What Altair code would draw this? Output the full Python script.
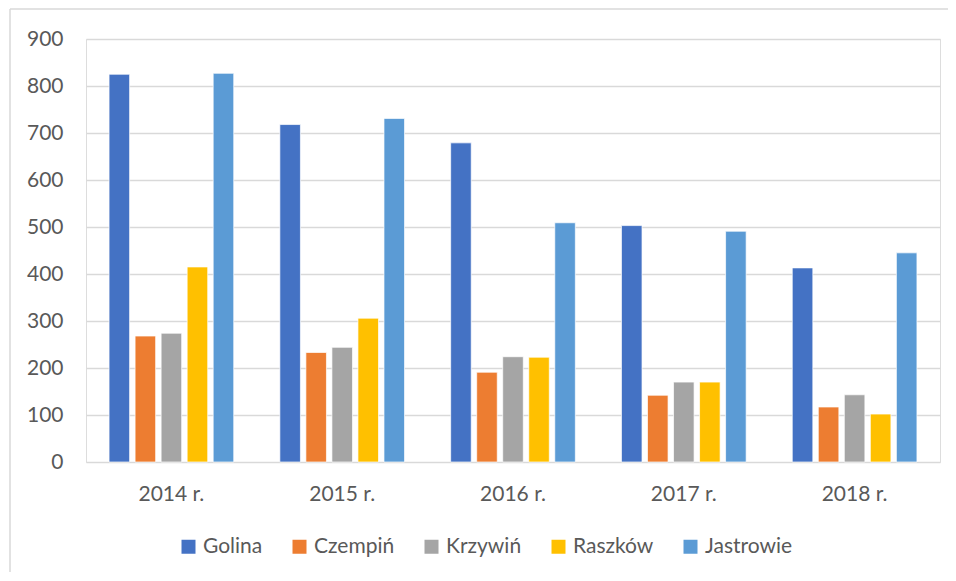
import altair as alt
import pandas as pd

years = ["2014 r.", "2015 r.", "2016 r.", "2017 r.", "2018 r."]
cities = ["Golina", "Czempiń", "Krzywiń", "Raszków", "Jastrowie"]
colors = ["#4472C4", "#ED7D31", "#A5A5A5", "#FFC000", "#5B9BD5"]

golina = [825, 718, 679, 503, 413]
czempin = [268, 233, 191, 142, 117]
krzywin = [274, 244, 224, 170, 143]
raszkow = [415, 306, 223, 170, 102]
jastrowie = [827, 731, 509, 491, 445]

series = [golina, czempin, krzywin, raszkow, jastrowie]
rows = []
for city, vals in zip(cities, series):
    for y, v in zip(years, vals):
        rows.append({"year": y, "city": city, "value": v})
df = pd.DataFrame(rows)

FONT = "Lato"
TXT = "#595959"
GRID = "#D9D9D9"

bars = alt.Chart(df).mark_bar(stroke="white", strokeWidth=0.7).encode(
    x=alt.X("year:N", sort=years, title=None,
            scale=alt.Scale(paddingInner=0.27, paddingOuter=0.135),
            axis=alt.Axis(labelAngle=0, labelFont=FONT, labelFontSize=21,
                          labelColor=TXT, ticks=False, domain=False,
                          labelPadding=21, grid=False)),
    xOffset=alt.XOffset("city:N", sort=cities,
                        scale=alt.Scale(paddingInner=0.21, paddingOuter=0)),
    y=alt.Y("value:Q", title=None,
            scale=alt.Scale(domain=[0, 900], nice=False),
            axis=alt.Axis(values=list(range(0, 901, 100)), labelFont=FONT,
                          labelFontSize=21, labelColor=TXT, ticks=False,
                          domain=False, labelPadding=23, gridColor=GRID,
                          gridWidth=1.5)),
    color=alt.Color("city:N", sort=cities,
                    scale=alt.Scale(domain=cities, range=colors),
                    legend=alt.Legend(title=None, orient="none",
                                      direction="horizontal",
                                      legendX=92, legendY=497,
                                      symbolType="square", symbolSize=196,
                                      symbolStrokeWidth=0,
                                      labelFont=FONT, labelFontSize=21,
                                      labelColor=TXT, columnPadding=26,
                                      labelOffset=4, padding=0)),
)

frame_data = alt.Data(values=[{"a": 1}])
left_line = alt.Chart(frame_data).mark_rule(color=GRID, strokeWidth=1.5).encode(
    x=alt.value(-76), y=alt.value(-30), y2=alt.value(560))
top_line = alt.Chart(frame_data).mark_rule(color=GRID, strokeWidth=1.5).encode(
    x=alt.value(-76), x2=alt.value(880), y=alt.value(-30))

chart = alt.layer(bars, left_line, top_line).properties(
    width=854, height=423,
    autosize=alt.AutoSizeParams(type="none"),
    padding={"left": 78, "top": 31, "right": 8, "bottom": 110},
).configure_view(stroke=None).configure(background="white")

chart.save("out.html", embed_options={"renderer": "svg", "actions": False})
